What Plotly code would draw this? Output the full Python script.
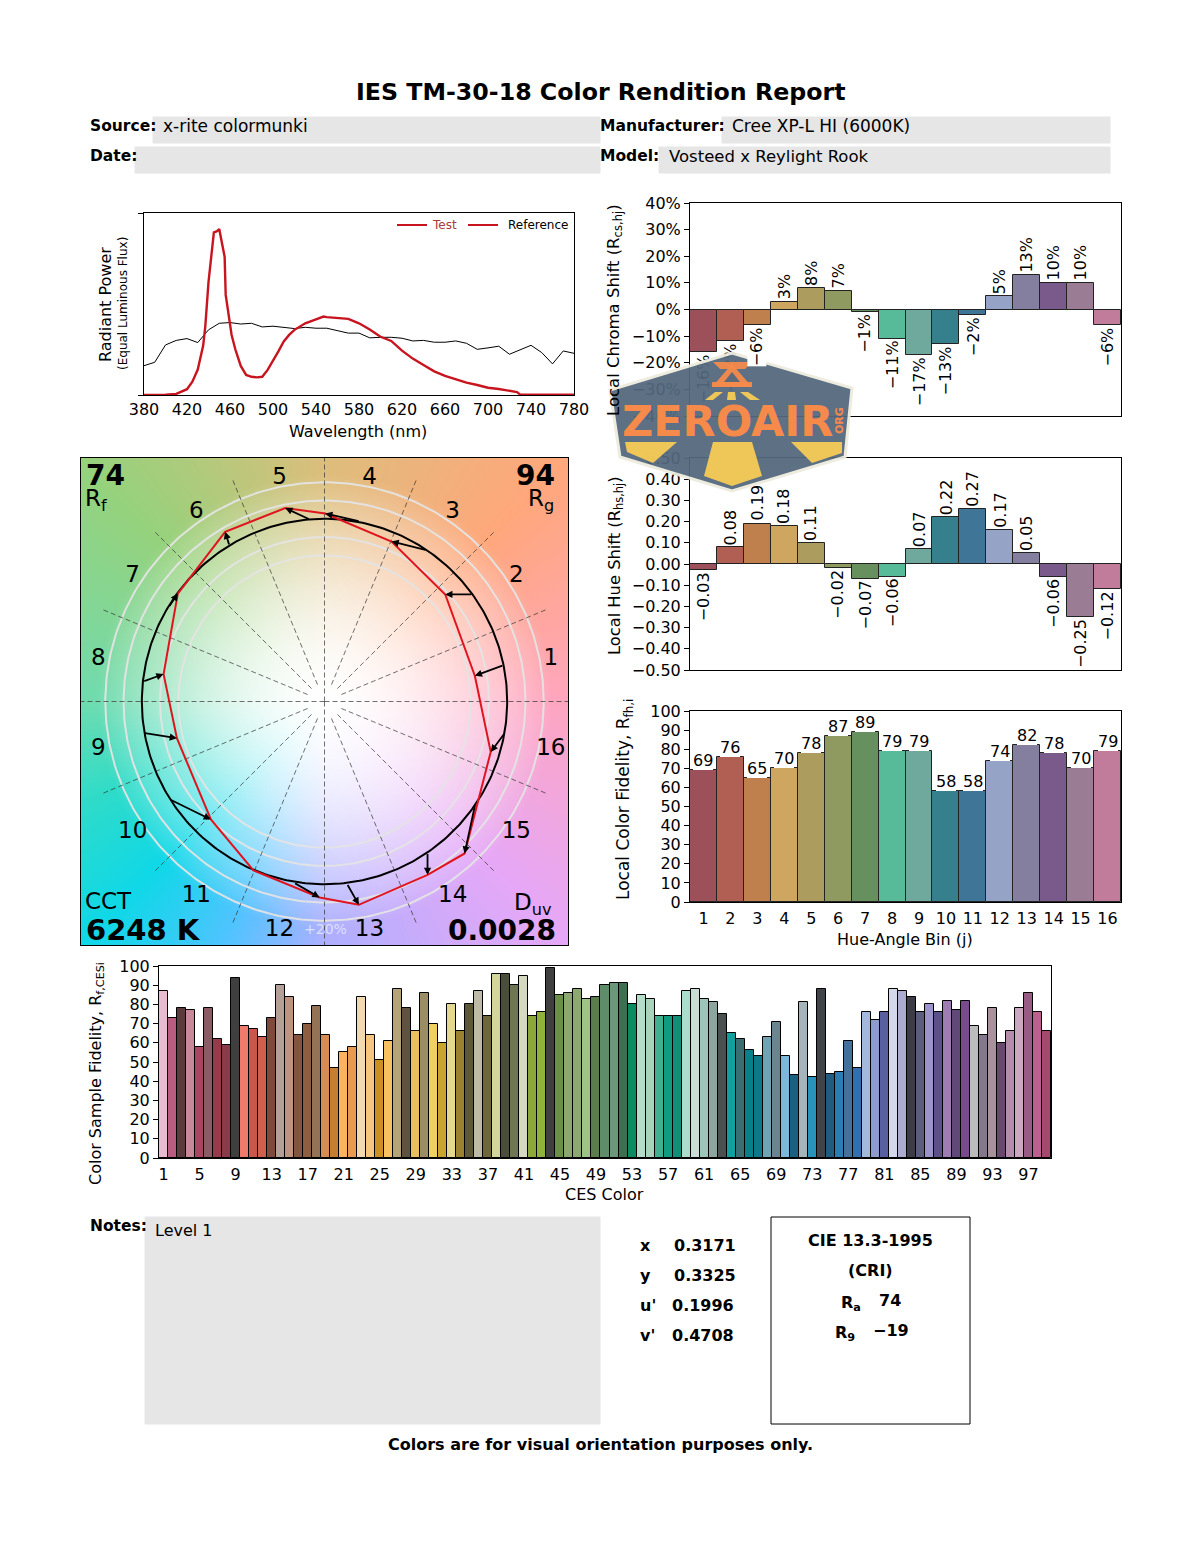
import numpy as np
import plotly.graph_objects as go

# the page body has an 8px margin, so the drawing area starts at (8, 8) of the 1200x1550 window
PAGE_W = 1200
PAGE_H = 1550
PAD = 8
W = PAGE_W - PAD
H = PAGE_H - PAD
FONT = "DejaVu Sans"

# spectrum (relative power)
test_nm = [380, 390, 400, 410, 420, 425, 430, 435, 437, 440, 442, 445, 448, 450, 453, 455, 456, 458.5, 461.5, 465, 470,
           475, 480, 485, 490, 495, 500, 505, 510, 515, 520, 525, 530, 540, 547, 550, 560, 570, 580, 590, 600, 610, 620,
           630, 640, 650, 660, 670, 680, 690, 700, 710, 720, 727, 730, 740, 750, 760, 770, 780]
test_power = [0, 0, 0.002, 0.006, 0.032, 0.073, 0.14, 0.27, 0.376, 0.62, 0.72, 0.894, 0.9, 0.912, 0.82, 0.76, 0.55, 0.45,
              0.33, 0.25, 0.16, 0.11, 0.1, 0.097, 0.1, 0.138, 0.193, 0.24, 0.294, 0.33, 0.358, 0.376, 0.394, 0.416, 0.431,
              0.428, 0.424, 0.418, 0.394, 0.36, 0.32, 0.297, 0.244, 0.2, 0.165, 0.13, 0.105, 0.086, 0.068, 0.055, 0.04,
              0.033, 0.024, 0.016, 0.002, 0.002, 0.002, 0.002, 0.002, 0.002]
ref_nm = list(range(380, 790, 10))
ref_power = [0.161, 0.18, 0.275, 0.30, 0.31, 0.288, 0.358, 0.394, 0.398, 0.39, 0.394, 0.374, 0.378, 0.372, 0.365, 0.372,
             0.367, 0.367, 0.354, 0.34, 0.34, 0.314, 0.317, 0.317, 0.312, 0.297, 0.30, 0.29, 0.29, 0.297, 0.284, 0.251,
             0.259, 0.268, 0.224, 0.25, 0.273, 0.233, 0.171, 0.242, 0.229]

# hue bins
bins = list(range(1, 17))
bin_colors = ["#9B505A", "#B05F52", "#C0804E", "#CFA660", "#AC9C5E", "#8F9A60", "#67905F", "#57BB99",
              "#6FA89C", "#367F8C", "#3F7597", "#95A3C7", "#847E9F", "#7A5A8A", "#9A7C95", "#C27C9B"]
chroma_shift = [-16, -12, -6, 3, 8, 7, -1, -11, -17, -13, -2, 5, 13, 10, 10, -6]
chroma_ticks = list(range(-40, 41, 10))
hue_shift = [-0.03, 0.08, 0.19, 0.18, 0.10, -0.02, -0.07, -0.06, 0.07, 0.22, 0.26, 0.16, 0.05, -0.06, -0.25, -0.12]
hue_labels = ["−0.03", "0.08", "0.19", "0.18", "0.11", "−0.02", "−0.07", "−0.06", "0.07", "0.22", "0.27", "0.17",
              "0.05", "−0.06", "−0.25", "−0.12"]
local_fidelity = [69, 76, 65, 70, 78, 87, 89, 79, 79, 58, 58, 74, 82, 78, 70, 79]

# labels that sit under the logo and have to stay below it
chroma_under_logo = [1, 2]
hue_under_logo = [3]

# vector graphic, reference circle has radius 1
ref_x = [0.982, 0.812, 0.560, 0.195, -0.078, -0.520, -0.854, -0.995, -0.991, -0.848, -0.374, -0.169, 0.122, 0.564, 0.825, 0.989]
ref_y = [0.199, 0.586, 0.828, 0.985, 0.995, 0.852, 0.515, 0.109, -0.172, -0.535, -0.934, -0.991, -0.996, -0.827, -0.562, -0.170]
test_x = [0.823, 0.661, 0.367, 0.004, -0.215, -0.544, -0.803, -0.881, -0.808, -0.622, -0.389, -0.027, 0.188, 0.564, 0.767, 0.910]
test_y = [0.141, 0.586, 0.876, 1.029, 1.059, 0.929, 0.591, 0.150, -0.201, -0.646, -0.925, -1.073, -1.113, -0.949, -0.832, -0.276]
ring_radii = [0.8, 0.9, 1.1, 1.2]

# backdrop colours by direction around the chart
bg_angles = [0, 45, 90, 135, 180, 202.5, 225, 247.5, 270, 315, 360]
bg_colors = [(255, 166, 192), (255, 168, 124), (221, 190, 124), (151, 210, 124), (112, 220, 176), (48, 220, 200),
             (16, 216, 232), (80, 196, 255), (173, 176, 255), (230, 168, 248), (255, 166, 192)]

# CES samples
ces = list(range(1, 100))
ces_ticks = list(range(1, 98, 4))
ces_fidelity = [87, 73, 78, 77, 58, 78, 62, 59, 94, 69, 67, 63, 73, 90, 84, 64, 70, 79, 64, 47, 55, 58, 84, 64, 51, 61,
                88, 78, 66, 86, 70, 60, 80, 66, 80, 87, 74, 96, 96, 90, 95, 74, 76, 99, 85, 86, 88, 83, 84, 90, 91, 91,
                80, 85, 83, 74, 74, 74, 87, 88, 83, 81, 75, 65, 62, 56, 53, 63, 71, 53, 43, 81, 42, 88, 44, 45, 61, 47,
                76, 72, 76, 88, 87, 84, 76, 80, 76, 82, 77, 82, 69, 64, 78, 60, 66, 78, 86, 76, 66]
ces_colors = ["#E8BBD0", "#B85C80", "#5A3A3C", "#C98899", "#A84560", "#8C5C64", "#973A4C", "#8A3A48", "#3F3F3F",
              "#F07B6C", "#C9574E", "#D05F4E", "#7E4B3A", "#B5A097", "#BE9480", "#835540", "#8D5F40", "#937256",
              "#D68C54", "#C67F32", "#FCB35E", "#E89A50", "#F3D9B2", "#F6C67E", "#CC8F24", "#F7C060", "#B5A37A",
              "#5F5340", "#E8C060", "#9B8D64", "#F0D060", "#C9A530", "#E3D88E", "#9A8230", "#5F5838", "#BDBBA6",
              "#6E673A", "#D2D69A", "#4A4D3A", "#6F7652", "#D5D9C0", "#8CA83A", "#8FB23A", "#3F3F3F", "#6A9048",
              "#8AA870", "#8DA870", "#9CC484", "#5A7D4C", "#5F8D6A", "#6A9878", "#3D7050", "#0A8C60", "#B5DCC8",
              "#A8D4BC", "#40B090", "#109C80", "#109078", "#ACDCCC", "#CADCD4", "#9CC4B8", "#8EA49E", "#4A5050",
              "#10A0A0", "#3A6E70", "#08808A", "#0C7888", "#70A4B4", "#6C8490", "#7CB8DC", "#1A6080", "#A4B4BA",
              "#2894BC", "#404448", "#1F5C80", "#2C7CB4", "#44709C", "#3070B0", "#A4B8DC", "#8C9CCC", "#5860A0",
              "#D4D8EA", "#ACACD0", "#3C3C46", "#5C5C7C", "#9C94C8", "#5C5088", "#A07CB4", "#604878", "#784C8C",
              "#BCBCBC", "#84788C", "#A8909C", "#68486C", "#B48CAC", "#CCA8C0", "#985C84", "#BC6090", "#A44870"]


def fx(px):
    return (px - PAD) / W


def fy(py):
    return 1 - (py - PAD) / H


def dom_x(a, b):
    return [fx(a), fx(b)]


def dom_y(top, bottom):
    return [fy(bottom), fy(top)]


def note(px, py, text, size=16, bold=False, anchor="left", color="black", angle=0):
    if bold:
        text = "<b>" + text + "</b>"
    fig.add_annotation(x=fx(px), y=fy(py), xref="paper", yref="paper", text=text, showarrow=False,
                       xanchor=anchor, yanchor="middle", textangle=angle, borderpad=0, borderwidth=0,
                       font=dict(family=FONT, size=size, color=color))


def box(x0, y0, x1, y1, fill="#E6E6E6", line=None):
    fig.add_shape(type="rect", xref="paper", yref="paper", x0=fx(x0), x1=fx(x1), y0=fy(y0), y1=fy(y1),
                  fillcolor=fill, line=dict(color=line or fill, width=1), layer="below")


def poly(points, fill, line=None, width=0):
    path = "M " + " L ".join(f"{fx(x):.5f} {fy(y):.5f}" for x, y in points) + " Z"
    fig.add_shape(type="path", xref="paper", yref="paper", path=path, fillcolor=fill, opacity=0.94,
                  line=dict(color=line or fill, width=width), layer="above")


def bar_labels(xref, yref, values, labels, skip):
    for b, v, t in zip(bins, values, labels):
        if b in skip:
            continue
        fig.add_annotation(x=b, y=v, xref=xref, yref=yref, text=t, showarrow=False, textangle=-90,
                           yanchor="bottom" if v >= 0 else "top", yshift=2 if v >= 0 else -2, bgcolor="white",
                           borderpad=0, borderwidth=0, font=dict(family=FONT, size=16, color="black"))


def pct(v):
    return f"{v}%".replace("-", "−")


fig = go.Figure()

# spectrum
fig.add_trace(go.Scatter(x=ref_nm, y=ref_power, mode="lines", name="Reference", line=dict(color="black", width=1),
                         xaxis="x", yaxis="y"))
fig.add_trace(go.Scatter(x=test_nm, y=test_power, mode="lines", name="Test", line=dict(color="#C8141E", width=2.4),
                         xaxis="x", yaxis="y"))

# chroma shift
fig.add_trace(go.Bar(x=bins, y=chroma_shift, marker=dict(color=bin_colors, line=dict(color="#222222", width=1)),
                     text=[pct(v) if b in chroma_under_logo else "" for b, v in zip(bins, chroma_shift)],
                     textposition="outside", textangle=-90, cliponaxis=False, constraintext="none",
                     textfont=dict(family=FONT, size=16, color="black"), xaxis="x2", yaxis="y2"))
# hue shift
fig.add_trace(go.Bar(x=bins, y=hue_shift, marker=dict(color=bin_colors, line=dict(color="#222222", width=1)),
                     text=[t if b in hue_under_logo else "" for b, t in zip(bins, hue_labels)],
                     textposition="outside", textangle=-90, cliponaxis=False, constraintext="none",
                     textfont=dict(family=FONT, size=16, color="black"), xaxis="x3", yaxis="y3"))
# local fidelity
fig.add_trace(go.Bar(x=bins, y=local_fidelity, marker=dict(color=bin_colors, line=dict(color="#222222", width=1)),
                     xaxis="x4", yaxis="y4"))

# backdrop of the vector graphic
n = 244
half = 1.333
step = 2 * half / n
grid = -half + step * (np.arange(n) + 0.5)
gx, gy = np.meshgrid(grid, grid)
ang = np.degrees(np.arctan2(gy, gx)) % 360
mix = np.clip(1.12 * (np.hypot(gx, gy) / half) ** 1.7, 0, 1)
bg = np.zeros((n, n, 3), dtype=np.uint8)
for c in range(3):
    edge = np.interp(ang, bg_angles, [col[c] for col in bg_colors])
    bg[:, :, c] = (255 + (edge - 255) * mix).astype(np.uint8)
fig.add_trace(go.Image(z=bg, x0=grid[0], y0=grid[0], dx=step, dy=step, hoverinfo="skip", xaxis="x5", yaxis="y5"))

theta = np.linspace(0, 2 * np.pi, 361)
for r in ring_radii:
    fig.add_trace(go.Scatter(x=r * np.cos(theta), y=r * np.sin(theta), mode="lines",
                             line=dict(color="rgba(228,228,228,0.95)", width=2), xaxis="x5", yaxis="y5"))

spoke_x = []
spoke_y = []
for a in np.radians(np.arange(0, 360, 22.5)):
    r0 = 0 if round(np.degrees(a)) % 90 == 0 else 0.1
    r1 = half if round(np.degrees(a)) % 90 == 0 else 1.316
    spoke_x += [r0 * np.cos(a), r1 * np.cos(a), None]
    spoke_y += [r0 * np.sin(a), r1 * np.sin(a), None]
fig.add_trace(go.Scatter(x=spoke_x, y=spoke_y, mode="lines", line=dict(color="#333333", width=0.7, dash="5px,3px"),
                         xaxis="x5", yaxis="y5"))
fig.add_trace(go.Scatter(x=np.cos(theta), y=np.sin(theta), mode="lines", line=dict(color="black", width=2),
                         xaxis="x5", yaxis="y5"))
fig.add_trace(go.Scatter(x=test_x + test_x[:1], y=test_y + test_y[:1], mode="lines",
                         line=dict(color="#E0141E", width=2), xaxis="x5", yaxis="y5"))
for rx, ry, tx, ty in zip(ref_x, ref_y, test_x, test_y):
    fig.add_annotation(x=tx, y=ty, ax=rx, ay=ry, xref="x5", yref="y5", axref="x5", ayref="y5", text="",
                       showarrow=True, arrowhead=2, arrowsize=0.8, arrowwidth=1.8, arrowcolor="black")

bin_angle = np.radians(11.25 + 22.5 * np.arange(16))
fig.add_trace(go.Scatter(x=1.263 * np.cos(bin_angle), y=1.263 * np.sin(bin_angle) - 0.014, mode="text",
                         text=[str(b) for b in bins], textposition="middle center",
                         textfont=dict(family=FONT, size=23, color="black"), xaxis="x5", yaxis="y5"))

# CES bars
fig.add_trace(go.Bar(x=ces, y=ces_fidelity, marker=dict(color=ces_colors, line=dict(color="black", width=1)),
                     xaxis="x6", yaxis="y6"))

axis = dict(showline=True, mirror=True, linecolor="black", linewidth=1, showgrid=False, zeroline=False,
            automargin=False, ticks="outside", ticklen=5, tickcolor="black",
            tickfont=dict(family=FONT, size=16, color="black"))

fig.update_layout(
    width=W, height=H, margin=dict(l=0, r=0, t=0, b=0), paper_bgcolor="white", plot_bgcolor="white",
    showlegend=False, bargap=0,
    xaxis=dict(axis, anchor="y", domain=dom_x(144, 574), range=[380, 780], tickvals=list(range(380, 781, 40)), ticks=""),
    yaxis=dict(axis, anchor="x", domain=dom_y(213, 395), range=[0, 1], tickvals=[0, 1], showticklabels=False),
    xaxis2=dict(axis, anchor="y2", domain=dom_x(690, 1121), range=[0.5, 16.5], ticks="", showticklabels=False),
    yaxis2=dict(axis, anchor="x2", domain=dom_y(203, 416), range=[-40, 40], tickvals=chroma_ticks,
                ticktext=[pct(v) for v in chroma_ticks]),
    xaxis3=dict(axis, anchor="y3", domain=dom_x(690, 1121), range=[0.5, 16.5], ticks="", showticklabels=False),
    yaxis3=dict(axis, anchor="x3", domain=dom_y(458, 670), range=[-0.5, 0.5], tickvals=[i / 10 for i in range(-5, 6)],
                tickformat=".2f"),
    xaxis4=dict(axis, anchor="y4", domain=dom_x(690, 1121), range=[0.5, 16.5], tickvals=bins, ticks="",
                ticklabelstandoff=2),
    yaxis4=dict(axis, anchor="x4", domain=dom_y(711, 902), range=[0, 100], tickvals=list(range(0, 101, 10))),
    xaxis5=dict(axis, anchor="y5", domain=dom_x(81, 568), range=[-half, half], ticks="", showticklabels=False),
    yaxis5=dict(axis, anchor="x5", domain=dom_y(458, 945), range=[-half, half], ticks="", showticklabels=False),
    xaxis6=dict(axis, anchor="y6", domain=dom_x(159, 1051), range=[0.5, 99.5], tickvals=ces_ticks, ticks="",
                ticklabelstandoff=2),
    yaxis6=dict(axis, anchor="x6", domain=dom_y(966, 1158), range=[0, 100], tickvals=list(range(0, 101, 10))),
)

# header
note(600, 92, "IES TM-30-18 Color Rendition Report", size=23.7, bold=True, anchor="center")
box(153, 117, 600, 143)
box(722, 117, 1110, 143)
box(135, 147, 600, 173)
box(659, 147, 1110, 173)
note(90, 126, "Source:", size=15.5, bold=True)
note(163, 126, "x-rite colormunki", size=17)
note(600, 126, "Manufacturer:", size=15.5, bold=True)
note(732, 126, "Cree XP-L HI (6000K)", size=17)
note(90, 156, "Date:", size=15.5, bold=True)
note(600, 156, "Model:", size=15.5, bold=True)
note(669, 156, "Vosteed x Reylight Rook", size=16.5)

# spectrum labels and legend
note(105, 304, "Radiant Power", size=16, anchor="center", angle=-90)
note(123, 304, "(Equal Luminous Flux)", size=12, anchor="center", angle=-90)
note(358, 431, "Wavelength (nm)", size=16, anchor="center")
for a, b in [(397, 427), (468, 498)]:
    fig.add_shape(type="line", xref="paper", yref="paper", x0=fx(a), x1=fx(b), y0=fy(225), y1=fy(225),
                  line=dict(color="#C8141E", width=2))
note(432, 225, "Test", size=12, color="#A83A40")
note(508, 225, "Reference", size=12)

# bar chart labels
bar_labels("x2", "y2", chroma_shift, [pct(v) for v in chroma_shift], chroma_under_logo)
bar_labels("x3", "y3", hue_shift, hue_labels, hue_under_logo)
for b, v in zip(bins, local_fidelity):
    fig.add_annotation(x=b, y=v, xref="x4", yref="y4", text=str(v), showarrow=False, yanchor="bottom", yshift=0,
                       bgcolor="white", borderpad=0, borderwidth=0, font=dict(family=FONT, size=16, color="black"))
note(615, 310, "Local Chroma Shift (R<sub>cs,hj</sub>)", size=16.5, anchor="center", angle=-90)
note(615, 566, "Local Hue Shift (R<sub>hs,hj</sub>)", size=16.3, anchor="center", angle=-90)
note(625, 800, "Local Color Fidelity, R<sub>fh,i</sub>", size=17, anchor="center", angle=-90)
note(905, 939, "Hue-Angle Bin (j)", anchor="center")
note(96, 1074, "Color Sample Fidelity, R<sub>f,CESi</sub>", anchor="center", angle=-90)
note(604, 1194, "CES Color", anchor="center")

# vector graphic captions
note(86, 475, "74", size=28, bold=True)
note(555, 475, "94", size=28, bold=True, anchor="right")
note(85, 500, "R<sub>f</sub>", size=23)
note(554, 500, "R<sub>g</sub>", size=23, anchor="right")
note(85, 901, "CCT", size=23)
note(86, 930, "6248 K", size=29, bold=True)
note(552, 904, "D<sub>uv</sub>", size=23, anchor="right")
note(556, 930, "0.0028", size=28, bold=True, anchor="right")
note(325, 929, "+20%", size=14, anchor="center", color="rgba(255,255,255,0.6)")

# footer
note(90, 1226, "Notes:", size=15.5, bold=True)
box(145, 1217, 600, 1424)
note(155, 1230, "Level 1")
for label, value, px, py in [("x", "0.3171", 674, 1245), ("y", "0.3325", 674, 1275),
                             ("u'", "0.1996", 672, 1305), ("v'", "0.4708", 672, 1335)]:
    note(640, py, label, bold=True)
    note(px, py, value, bold=True)
box(771, 1217, 970, 1424, fill="white", line="black")
note(870, 1240, "CIE 13.3-1995", bold=True, anchor="center")
note(870, 1270, "(CRI)", bold=True, anchor="center")
note(841, 1303, "R<sub>a</sub>", bold=True)
note(879, 1300, "74", bold=True)
note(835, 1333, "R<sub>9</sub>", bold=True)
note(873, 1330, "−19", bold=True)
note(600, 1444, "Colors are for visual orientation purposes only.", bold=True, anchor="center")

# watermark logo
poly([(732, 353), (852, 388), (845, 457), (732, 491), (620, 457), (610, 390)], "#53687D", "#EDEBDD", 3)
for pts in [[(625, 442), (677, 442), (653, 463), (627, 452)],
            [(713, 442), (752, 442), (762, 476), (732, 486), (704, 476)],
            [(791, 442), (842, 442), (842, 453), (812, 463)],
            [(715, 392), (723, 392), (713, 400), (705, 400)],
            [(728, 392), (735, 392), (736, 400), (727, 400)],
            [(740, 392), (748, 392), (760, 400), (750, 400)]]:
    poly(pts, "#F9CB55")
for pts in [[(713, 362), (752, 362), (745, 369), (720, 369)],
            [(712, 382), (752, 382), (752, 387), (712, 387)],
            [(732, 364), (752, 387), (712, 387)]]:
    poly(pts, "#F58A4B")
poly([(732, 372), (740, 382), (724, 382)], "#53687D")
note(727, 421, "ZEROAIR", size=43, bold=True, anchor="center", color="#F58A4B")
note(840, 421, "ORG", size=11, bold=True, anchor="center", color="#F58A4B", angle=-90)

fig.write_html("out.html")
